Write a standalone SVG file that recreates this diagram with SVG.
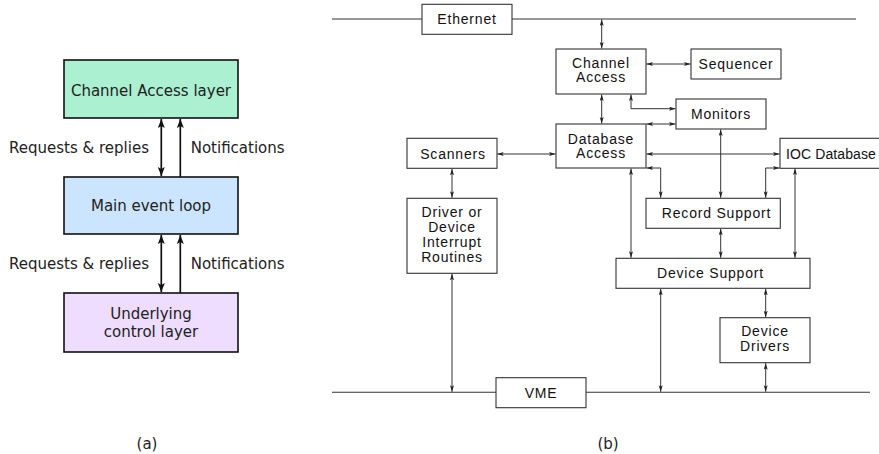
<svg xmlns="http://www.w3.org/2000/svg" width="879" height="454" viewBox="0 0 879 454">
<style>
.ta{font-family:"DejaVu Sans",sans-serif;font-size:15px;fill:#222;}
.tb{font-family:"Liberation Sans",Arial,sans-serif;font-size:14px;letter-spacing:0.8px;fill:#111;}
.cap{font-family:"DejaVu Sans",sans-serif;font-size:15px;fill:#222;}
.ba{stroke:#111;stroke-width:1.6;}
.bb{fill:#fff;stroke:#333;stroke-width:1.1;}
.ca{fill:none;stroke:#111;stroke-width:1.7;}
.cb{fill:none;stroke:#333;stroke-width:1;}
.bus{fill:none;stroke:#333;stroke-width:1.1;}
</style>
<defs>
<marker id="ha" markerUnits="userSpaceOnUse" markerWidth="10" markerHeight="8" refX="9" refY="3.5" orient="auto-start-reverse">
<path d="M0,0 L9,3.5 L0,7 L2,3.5 z" fill="#111"/>
</marker>
<marker id="hb" markerUnits="userSpaceOnUse" markerWidth="8" markerHeight="6" refX="6.5" refY="2" orient="auto-start-reverse">
<path d="M0,0 L6.5,2 L0,4 L1.5,2 z" fill="#222"/>
</marker>
</defs>
<rect width="879" height="454" fill="#fff"/>

<!-- Panel (a) -->
<g id="a-ca"><rect class="ba" x="64" y="60" width="174" height="58" fill="#aaf0d1"/><text class="ta" x="151" y="95.5" text-anchor="middle">Channel Access layer</text></g>
<g id="a-main"><rect class="ba" x="64" y="177" width="174" height="57" fill="#cce5ff"/><text class="ta" x="151" y="211" text-anchor="middle">Main event loop</text></g>
<g id="a-under"><rect class="ba" x="64" y="293" width="174" height="59" fill="#eeddff"/><text class="ta" x="151" y="318.5" text-anchor="middle">Underlying</text><text class="ta" x="151" y="337" text-anchor="middle">control layer</text></g>
<g id="a-connectors">
<line class="ca" x1="161.3" y1="119" x2="161.3" y2="176" marker-start="url(#ha)" marker-end="url(#ha)"/>
<line class="ca" x1="180.3" y1="177" x2="180.3" y2="119" marker-end="url(#ha)"/>
<line class="ca" x1="161.3" y1="235" x2="161.3" y2="292" marker-start="url(#ha)" marker-end="url(#ha)"/>
<line class="ca" x1="180.3" y1="293" x2="180.3" y2="235" marker-end="url(#ha)"/>
<text class="ta" x="9" y="153.3">Requests &amp; replies</text>
<text class="ta" x="190.7" y="153.3">Notifications</text>
<text class="ta" x="9" y="269">Requests &amp; replies</text>
<text class="ta" x="190.7" y="269">Notifications</text>
</g>
<text class="cap" x="147" y="448.5" text-anchor="middle">(a)</text>

<!-- Panel (b) buses -->
<g id="b-buses">
<line class="bus" x1="332" y1="19" x2="856" y2="19"/>
<line class="bus" x1="332" y1="392.3" x2="870" y2="392.3"/>
</g>

<g id="b-connectors">
<line class="cb" x1="601.7" y1="19.5" x2="601.7" y2="48.5" marker-start="url(#hb)" marker-end="url(#hb)"/>
<line class="cb" x1="646.5" y1="64" x2="690.5" y2="64" marker-start="url(#hb)" marker-end="url(#hb)"/>
<path class="cb" d="M631,94.5 V108.7 H675.5" marker-start="url(#hb)" marker-end="url(#hb)"/>
<line class="cb" x1="601.7" y1="94.5" x2="601.7" y2="123.5" marker-start="url(#hb)" marker-end="url(#hb)"/>
<line class="cb" x1="646.5" y1="124" x2="675.5" y2="124" marker-start="url(#hb)" marker-end="url(#hb)"/>
<line class="cb" x1="646.5" y1="154" x2="779.5" y2="154" marker-start="url(#hb)" marker-end="url(#hb)"/>
<line class="cb" x1="497.2" y1="154" x2="555.5" y2="154" marker-start="url(#hb)" marker-end="url(#hb)"/>
<path class="cb" d="M646.5,168 H660.7 V197.8" marker-start="url(#hb)" marker-end="url(#hb)"/>
<path class="cb" d="M779.5,168 H765.7 V197.8" marker-start="url(#hb)" marker-end="url(#hb)"/>
<line class="cb" x1="720.7" y1="129.5" x2="720.7" y2="197.8" marker-start="url(#hb)" marker-end="url(#hb)"/>
<line class="cb" x1="631" y1="168.5" x2="631" y2="257.8" marker-start="url(#hb)" marker-end="url(#hb)"/>
<line class="cb" x1="795" y1="168.5" x2="795" y2="257.8" marker-start="url(#hb)" marker-end="url(#hb)"/>
<line class="cb" x1="720.7" y1="228.8" x2="720.7" y2="257.8" marker-start="url(#hb)" marker-end="url(#hb)"/>
<line class="cb" x1="660.7" y1="288.8" x2="660.7" y2="391.8" marker-start="url(#hb)" marker-end="url(#hb)"/>
<line class="cb" x1="765.7" y1="288.8" x2="765.7" y2="317.2" marker-start="url(#hb)" marker-end="url(#hb)"/>
<line class="cb" x1="765.7" y1="363.2" x2="765.7" y2="391.8" marker-start="url(#hb)" marker-end="url(#hb)"/>
<line class="cb" x1="452" y1="168.8" x2="452" y2="197.8" marker-start="url(#hb)" marker-end="url(#hb)"/>
<line class="cb" x1="452" y1="273.8" x2="452" y2="391.8" marker-start="url(#hb)" marker-end="url(#hb)"/>
</g>

<g id="b-ethernet"><rect class="bb" x="422" y="4.3" width="90" height="30"/><text class="tb" x="467" y="24" text-anchor="middle">Ethernet</text></g>
<g id="b-ca"><rect class="bb" x="556" y="49" width="90" height="45"/><text class="tb" x="601" y="67.5" text-anchor="middle">Channel</text><text class="tb" x="601" y="82" text-anchor="middle">Access</text></g>
<g id="b-seq"><rect class="bb" x="691" y="49" width="90" height="30"/><text class="tb" x="736" y="69" text-anchor="middle">Sequencer</text></g>
<g id="b-mon"><rect class="bb" x="676" y="99" width="90" height="30"/><text class="tb" x="721" y="119" text-anchor="middle">Monitors</text></g>
<g id="b-db"><rect class="bb" x="556" y="124" width="90" height="44"/><text class="tb" x="601" y="143.5" text-anchor="middle">Database</text><text class="tb" x="601" y="158" text-anchor="middle">Access</text></g>
<g id="b-ioc"><rect class="bb" x="780" y="138.3" width="110" height="30"/><text class="tb" x="786" y="159" style="letter-spacing:0.1px">IOC Database</text></g>
<g id="b-scan"><rect class="bb" x="407" y="138.3" width="90" height="30"/><text class="tb" x="453" y="159" text-anchor="middle">Scanners</text></g>
<g id="b-drv"><rect class="bb" x="407" y="198.3" width="90" height="75"/><text class="tb" x="452" y="217" text-anchor="middle">Driver or</text><text class="tb" x="452" y="232" text-anchor="middle">Device</text><text class="tb" x="452" y="247" text-anchor="middle">Interrupt</text><text class="tb" x="452" y="262" text-anchor="middle">Routines</text></g>
<g id="b-rec"><rect class="bb" x="646" y="198.3" width="134.3" height="30"/><text class="tb" x="716.5" y="218" text-anchor="middle">Record Support</text></g>
<g id="b-devsup"><rect class="bb" x="616" y="258.3" width="194" height="30"/><text class="tb" x="710.5" y="278" text-anchor="middle">Device Support</text></g>
<g id="b-devdrv"><rect class="bb" x="720" y="317.7" width="90" height="45"/><text class="tb" x="765" y="336" text-anchor="middle">Device</text><text class="tb" x="765" y="350.5" text-anchor="middle">Drivers</text></g>
<g id="b-vme"><rect class="bb" x="496" y="377.7" width="90" height="30"/><text class="tb" x="541" y="397.5" text-anchor="middle">VME</text></g>
<text class="cap" x="608" y="448.5" text-anchor="middle">(b)</text>
</svg>
